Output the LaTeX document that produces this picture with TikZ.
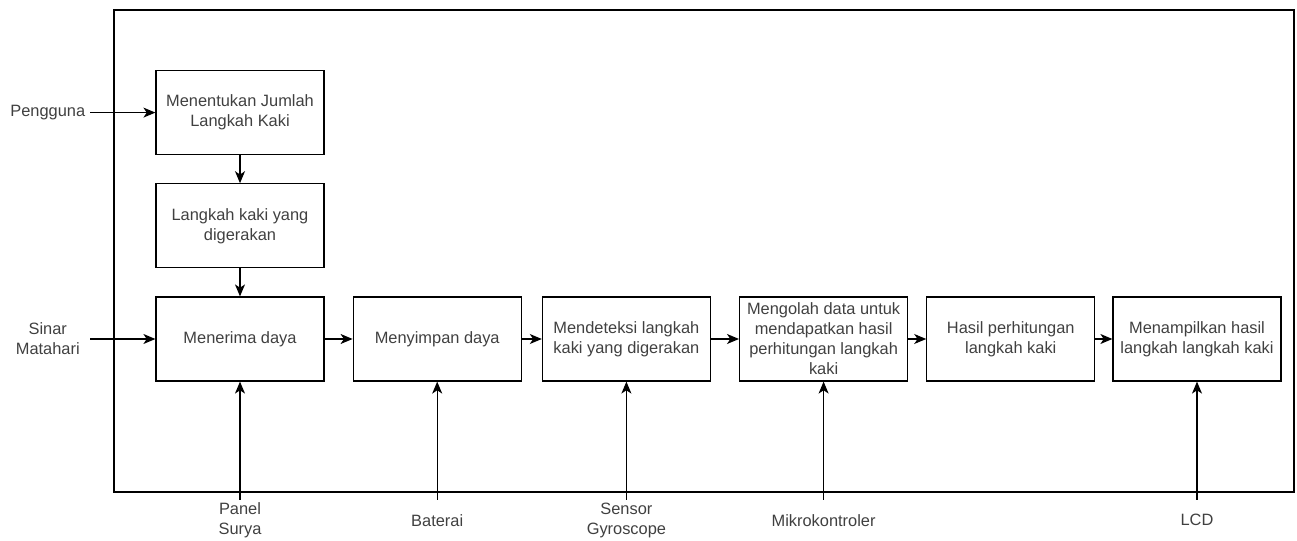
\documentclass[tikz,border=0pt]{standalone}
\usepackage{fontspec}
\setmainfont{Liberation Sans}
\usetikzlibrary{positioning,arrows.meta}
\tikzset{auto}

\begin{document}
\begin{tikzpicture}[x=0.75pt, y=-0.75pt, line width=0.9pt,
    >={Stealth[length=9pt,width=7.5pt,inset=2.5pt]},
    teks/.style={text=black!75, font=\fontsize{12.3}{15}\selectfont, align=center},
    blok/.style={teks, draw, minimum width=126pt, minimum height=63pt, inner sep=1pt},
    masuk/.style={teks, minimum width=63pt, inner sep=0pt},
    bawah/.style={teks, minimum height=30pt, inner sep=0pt}]
        \useasboundingbox (0,0) rectangle (1297,541);
        \draw (114,10) rectangle (1294,492);
        \node (terima) [blok] at (240,339) {Menerima daya};
        \node (gerak) [blok, above=21pt of terima] {Langkah kaki yang\\digerakan};
        \node (tentu) [blok, above=21pt of gerak] {Menentukan Jumlah\\Langkah Kaki};
        \node (simpan) [blok, right=21pt of terima] {Menyimpan daya};
        \node (deteksi) [blok, right=15pt of simpan] {Mendeteksi langkah\\kaki yang digerakan};
        \node (olah) [blok, right=21pt of deteksi] {Mengolah data untuk\\mendapatkan hasil\\perhitungan langkah\\kaki};
        \node (hasil) [blok, right=13.5pt of olah] {Hasil perhitungan\\langkah kaki};
        \node (tampil) [blok, right=12.75pt of hasil] {Menampilkan hasil\\langkah langkah kaki};
        % masukan dari luar
        \node (pengguna) [masuk, left=48.75pt of tentu] {Pengguna};
        \node (sinar) [masuk, left=48.75pt of terima] {Sinar\\Matahari};
        \node (panel) [bawah, below=88.5pt of terima] {Panel\\Surya};
        \node (baterai) [bawah, below=88.5pt of simpan] {Baterai};
        \node (sensor) [bawah, below=88.5pt of deteksi] {Sensor\\Gyroscope};
        \node (mikro) [bawah, below=88.5pt of olah] {Mikrokontroler};
        \node (lcd) [bawah, below=88.5pt of tampil] {LCD};
        \draw[->] (pengguna) to (tentu);
        \draw[->] (tentu) to (gerak);
        \draw[->] (gerak) to (terima);
        \draw[->] (sinar) to (terima);
        \draw[->] (terima) to (simpan);
        \draw[->] (simpan) to (deteksi);
        \draw[->] (deteksi) to (olah);
        \draw[->] (olah) to (hasil);
        \draw[->] (hasil) to (tampil);
        \draw[->] (panel) to (terima);
        \draw[->] (baterai) to (simpan);
        \draw[->] (sensor) to (deteksi);
        \draw[->] (mikro) to (olah);
        \draw[->] (lcd) to (tampil);
      \end{tikzpicture}
\end{document}
